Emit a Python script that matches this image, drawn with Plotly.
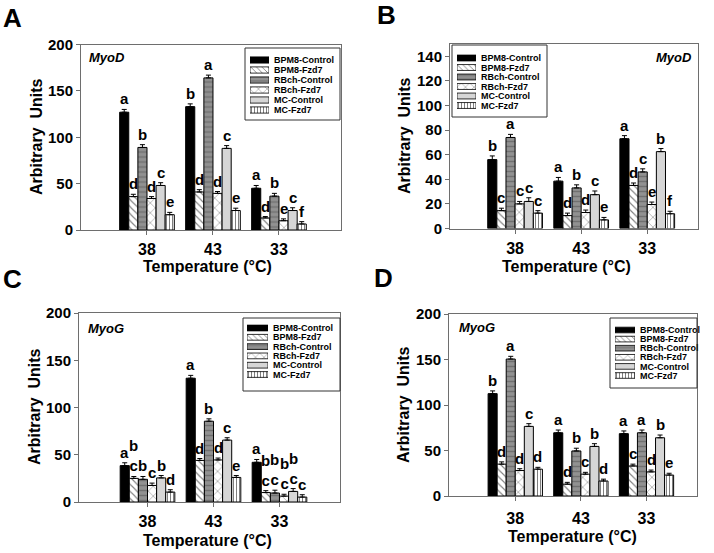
import plotly.graph_objects as go

# ---------------- data ----------------
CATS = ["38", "43", "33"]
SERIES = ["BPM8-Control", "BPM8-Fzd7", "RBch-Control", "RBch-Fzd7", "MC-Control", "MC-Fzd7"]

# rows = series (in SERIES order), columns = temperature (CATS order)
A_VALUES = [[127, 133, 45], [36, 41, 13], [89, 164, 36.5], [34, 39.5, 10], [48, 88, 21], [16.5, 21, 6.5]]
A_ERRORS = [[3, 3, 3], [2.5, 2.5, 1.5], [3, 3, 3], [2, 2, 2], [3, 3, 3], [2.5, 2.5, 2.5]]
A_LETTERS = [["a", "b", "a"], ["d", "d", "d"], ["b", "a", "b"], ["d", "d", "e"], ["c", "c", "c"], ["e", "e", "f"]]

B_VALUES = [[56, 38.5, 73], [14.5, 10.5, 35], [74, 33, 46], [20, 13, 19.5], [22, 27.5, 62.5], [12.5, 7, 12]]
B_ERRORS = [[3, 3, 2.5], [2, 2, 2], [2.5, 2.5, 2.5], [2, 2, 2], [3, 3, 2.5], [2, 2, 2]]
B_LETTERS = [["b", "a", "a"], ["c", "d", "d"], ["a", "b", "c"], ["c", "d", "e"], ["c", "c", "b"], ["c", "e", "f"]]

C_VALUES = [[38.5, 131, 42], [25, 44, 10], [24, 85.5, 9.5], [17.5, 44.5, 6.2], [25.5, 65.5, 11.2], [10.5, 26, 5.2]]
C_ERRORS = [[3, 3, 3], [2, 2, 2], [3, 2.5, 3], [2.5, 2, 2], [2.5, 2.5, 3], [2.5, 2, 2.5]]
C_LETTERS = [["a", "a", "a"], ["b<br>c", "d", "b<br>c"], ["b", "b", "b<br>c"], ["c", "d", "b<br>c"],
             ["b", "c", "b<br>c"], ["d", "e", "c"]]

D_VALUES = [[112.5, 69.5, 68.5], [35, 13, 33], [150.5, 49.5, 69.5], [28, 24, 26.5], [76.5, 54.5, 64], [29.5, 16.5, 23]]
D_ERRORS = [[3, 3, 3], [2.5, 2, 2], [3, 3, 3], [2, 2, 2], [3, 3, 3], [2, 2, 2]]
D_LETTERS = [["b", "a", "a"], ["d", "d", "c"], ["a", "b", "a"], ["d", "c", "d"], ["c", "b", "b"], ["d", "d", "e"]]

# ---------------- styling ----------------
FONT = "Liberation Sans, Arial, sans-serif"
W_PX, H_PX = 714, 553
FRAME = "#6e6e6e"
BAR_W = 0.138

STYLES = [
    dict(color="black", pattern=dict(shape="")),
    dict(color="white", pattern=dict(shape="\\", fgcolor="black", size=5, solidity=0.22)),
    dict(color="#919191", pattern=dict(shape="-", fgcolor="#505050", size=5, solidity=0.28)),
    dict(color="white", pattern=dict(shape="x", fgcolor="black", size=7, solidity=0.15)),
    dict(color="#d6d6d6", pattern=dict(shape="")),
    dict(color="white", pattern=dict(shape="|", fgcolor="black", size=3, solidity=0.35)),
]


def dx(a, b):
    return [a / W_PX, b / W_PX]


def dy(top, bottom):
    return [1 - bottom / H_PX, 1 - top / H_PX]


PANELS = [
    dict(tag="A", vals=A_VALUES, errs=A_ERRORS, lets=A_LETTERS, x=(81, 341), y=(44.5, 230),
         xr=(-1.0, 2.94), ymax=200, dtick=50, gene="MyoD", gene_pos=(87, 58, "left"),
         letter_pos=(12, 18), ytitle=(36, 137), xtitle=(207, 267), tl_off=1,
         leg_box=(245, 340, 48, 120), leg_sw=(250, 269), leg_rows=(60, 10)),
    dict(tag="B", vals=B_VALUES, errs=B_ERRORS, lets=B_LETTERS, x=(450, 698), y=(44, 228.5),
         xr=(-0.985, 2.768), ymax=150, dtick=20, gene="MyoD", gene_pos=(694, 58, "right"),
         letter_pos=(386, 15), ytitle=(405, 136), xtitle=(566, 267), tl_off=1,
         leg_box=(452, 547, 45, 117), leg_sw=(457, 476), leg_rows=(58, 9.5)),
    dict(tag="C", vals=C_VALUES, errs=C_ERRORS, lets=C_LETTERS, x=(79, 340), y=(313, 502),
         xr=(-1.038, 2.917), ymax=200, dtick=50, gene="MyoG", gene_pos=(86, 328, "left"),
         letter_pos=(12, 279), ytitle=(34, 407), xtitle=(207, 540), tl_off=1,
         leg_box=(243, 340, 318, 391), leg_sw=(247, 268), leg_rows=(328, 9.3)),
    dict(tag="D", vals=D_VALUES, errs=D_ERRORS, lets=D_LETTERS, x=(449, 697), y=(314, 496),
         xr=(-1.01, 2.77), ymax=200, dtick=50, gene="MyoG", gene_pos=(457, 327, "left"),
         letter_pos=(383, 278), ytitle=(403, 405), xtitle=(572, 536), tl_off=4,
         leg_box=(610, 697, 318, 388), leg_sw=(615, 635), leg_rows=(330, 9.1)),
]

fig = go.Figure()
annotations = []
shapes = []
layout = dict(
    width=W_PX, height=H_PX, margin=dict(l=0, r=0, t=0, b=0, pad=0, autoexpand=False),
    paper_bgcolor="white", plot_bgcolor="white", barmode="overlay", showlegend=False,
    font=dict(family=FONT, color="black"),
)

for p_i, P in enumerate(PANELS):
    n = p_i + 1
    xa = "x" if n == 1 else f"x{n}"
    ya = "y" if n == 1 else f"y{n}"
    layout["xaxis" if n == 1 else f"xaxis{n}"] = dict(
        domain=dx(*P["x"]), anchor=ya, range=list(P["xr"]), tickmode="array", tickvals=[0, 1, 2],
        ticktext=CATS, ticks="outside", ticklen=4, tickcolor=FRAME, showline=True, mirror=True,
        linecolor=FRAME, linewidth=1, showgrid=False, zeroline=False, automargin=False,
        ticklabelstandoff=P["tl_off"], tickfont=dict(family=FONT, size=16, weight="bold"),
    )
    layout["yaxis" if n == 1 else f"yaxis{n}"] = dict(
        domain=dy(*P["y"]), anchor=xa, range=[0, P["ymax"]], dtick=P["dtick"],
        ticks="outside", ticklen=4, tickcolor=FRAME, showline=True, mirror=True, linecolor=FRAME,
        linewidth=1, showgrid=False, zeroline=False, automargin=False,
        tickfont=dict(family=FONT, size=15, weight="bold"),
    )
    for i, name in enumerate(SERIES):
        st = STYLES[i]
        fig.add_trace(go.Bar(
            x=[0, 1, 2], y=P["vals"][i], name=name, xaxis=xa, yaxis=ya,
            width=BAR_W, offset=(i - 3) * BAR_W,
            marker=dict(color=st["color"], line=dict(color="black", width=1), pattern=st["pattern"]),
            error_y=dict(type="data", array=P["errs"][i], arrayminus=[0, 0, 0], symmetric=False,
                         color="black", thickness=1, width=2.5),
            showlegend=False, hoverinfo="skip",
        ))
        for c in range(3):
            annotations.append(dict(
                x=c + (i - 2.5) * BAR_W, y=P["vals"][i][c] + P["errs"][i][c], xref=xa, yref=ya,
                text=P["lets"][i][c], showarrow=False, yanchor="bottom", xanchor="center", yshift=0,
                font=dict(family=FONT, size=15, weight="bold"),
            ))

    # legend built as a small subplot
    m = n + 4
    lxa, lya = f"x{m}", f"y{m}"
    r0, sp = P["leg_rows"]
    layout[f"xaxis{m}"] = dict(domain=dx(*P["leg_sw"]), anchor=lya, range=[0, 1], visible=False,
                               fixedrange=True, automargin=False)
    layout[f"yaxis{m}"] = dict(
        domain=dy(r0 - sp / 2, r0 + 5 * sp + sp / 2), anchor=lxa, type="category",
        categoryorder="array", categoryarray=SERIES, autorange="reversed", side="right",
        tickmode="array", tickvals=SERIES, ticktext=SERIES,
        showline=False, showgrid=False, zeroline=False, ticks="", ticklabelstandoff=4,
        tickfont=dict(family=FONT, size=9, weight="bold"), fixedrange=True, automargin=False,
    )
    for i, name in enumerate(SERIES):
        st = STYLES[i]
        pat = dict(st["pattern"])
        if pat.get("shape"):
            pat["size"] = max(3, pat.get("size", 5) - 1)
        fig.add_trace(go.Bar(
            x=[1], y=[name], orientation="h", xaxis=lxa, yaxis=lya, width=0.62,
            marker=dict(color=st["color"], line=dict(color="black", width=0.8), pattern=pat),
            showlegend=False, hoverinfo="skip",
        ))
    bx0, bx1, by0, by1 = P["leg_box"]
    shapes.append(dict(type="rect", xref="paper", yref="paper", x0=bx0 / W_PX, x1=bx1 / W_PX,
                       y0=1 - by1 / H_PX, y1=1 - by0 / H_PX, line=dict(color="#333333", width=1),
                       fillcolor="rgba(0,0,0,0)", layer="above"))

    # texts
    gx, gy, gal = P["gene_pos"]
    annotations.append(dict(x=gx / W_PX, y=1 - gy / H_PX, xref="paper", yref="paper", text=P["gene"],
                            showarrow=False, xanchor=gal, yanchor="middle",
                            font=dict(family=FONT, size=13, weight="bold", style="italic")))
    lx, ly = P["letter_pos"]
    annotations.append(dict(x=lx / W_PX, y=1 - ly / H_PX, xref="paper", yref="paper", text=P["tag"],
                            showarrow=False, xanchor="center", yanchor="middle",
                            font=dict(family=FONT, size=26, weight="bold")))
    tx, ty = P["ytitle"]
    annotations.append(dict(x=tx / W_PX, y=1 - ty / H_PX, xref="paper", yref="paper",
                            text="Arbitrary  Units", textangle=-90, showarrow=False,
                            xanchor="center", yanchor="middle",
                            font=dict(family=FONT, size=16, weight="bold")))
    tx, ty = P["xtitle"]
    annotations.append(dict(x=tx / W_PX, y=1 - ty / H_PX, xref="paper", yref="paper",
                            text="Temperature (°C)", showarrow=False,
                            xanchor="center", yanchor="middle",
                            font=dict(family=FONT, size=16, weight="bold")))

layout["annotations"] = annotations
layout["shapes"] = shapes
fig.update_layout(**layout)
fig.write_html(
    "out.html",
    config={"displayModeBar": False, "staticPlot": True},
    post_script="document.documentElement.style.margin='0';document.body.style.margin='0';"
                "document.body.style.padding='0';document.body.style.overflow='hidden';",
)
